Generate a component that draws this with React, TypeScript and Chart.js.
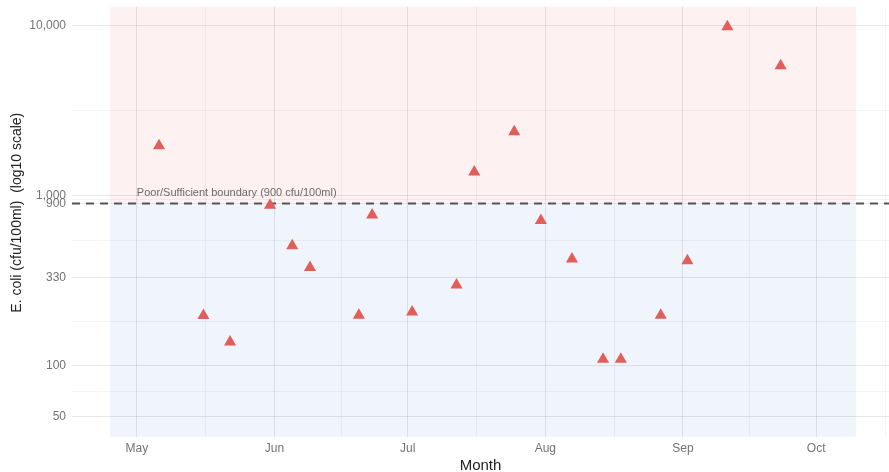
import { useEffect, useRef } from 'react';
import { Chart, registerables } from 'chart.js';

Chart.register(...registerables);

// Days counted from 1 May
const monthLabels = ['May', 'Jun', 'Jul', 'Aug', 'Sep', 'Oct'];
const monthStarts = [0, 31, 61, 92, 123, 153];
const monthMids = [15.5, 46, 76.5, 107.5, 138, 168.5];

const sampleDays = [5, 15, 21, 30, 35, 39, 50, 53, 62, 72, 76, 85, 91, 98, 105, 109, 118, 124, 133, 145];
const ecoliValues = [1970, 197, 138, 880, 507, 378, 198, 769, 207, 298, 1380, 2380, 714, 424, 109, 109, 198, 414, 9850, 5810];

const yTickValues = [50, 100, 330, 900, 1000, 10000];
const yTickLabels = ['50', '100', '330', '900', '1,000', '10,000'];
const yMinorTicks = [70.7, 181.7, 545, 948.7, 3162];

const boundaryValue = 900;
const boundaryLabel = 'Poor/Sufficient boundary (900 cfu/100ml)';
const yTitle = 'E. coli (cfu/100ml)  (log10 scale)';
const xTitle = 'Month';
const xRange = [-14.6, 169.4];
const yRange = [38.2, 12940];
const shadeRange = [-6, 162];

const FONT = '"Liberation Sans", Arial, Helvetica, sans-serif';

export default function App() {
  const ref = useRef<HTMLCanvasElement | null>(null);

  useEffect(() => {
    if (!ref.current) return;

    const shadePlugin = {
      id: 'shade',
      beforeDraw(chart: any) {
        const { ctx, chartArea, scales } = chart;
        const x = scales.x, y = scales.y;
        const x0 = x.getPixelForValue(shadeRange[0]);
        const x1 = x.getPixelForValue(shadeRange[1]);
        const yb = y.getPixelForValue(boundaryValue);
        ctx.save();
        ctx.fillStyle = '#fdf1f2';
        ctx.fillRect(x0, chartArea.top, x1 - x0, yb - chartArea.top);
        ctx.fillStyle = '#f0f4fd';
        ctx.fillRect(x0, yb, x1 - x0, chartArea.bottom - yb);
        ctx.restore();
      },
      beforeDatasetsDraw(chart: any) {
        const { ctx, scales, chartArea } = chart;
        const px = scales.x.getPixelForValue(0);
        const py = scales.y.getPixelForValue(boundaryValue);
        ctx.save();
        ctx.font = `11px ${FONT}`;
        ctx.fillStyle = '#6b6b6b';
        ctx.textAlign = 'left';
        ctx.textBaseline = 'alphabetic';
        ctx.fillText(boundaryLabel, px, py - 7);
        ctx.restore();

        // y axis title
        ctx.save();
        ctx.translate(17.5, (chartArea.top + chartArea.bottom) / 2 - 9);
        ctx.rotate(-Math.PI / 2);
        ctx.font = `14px ${FONT}`;
        ctx.fillStyle = '#222222';
        ctx.textAlign = 'center';
        ctx.textBaseline = 'middle';
        ctx.fillText(yTitle, 0, 0);
        ctx.restore();
      },
    };

    const majorY = new Set(yTickValues);
    const majorX = new Set(monthStarts);

    const chart = new Chart(ref.current, {
      type: 'scatter',
      data: {
        datasets: [
          {
            type: 'scatter',
            data: sampleDays.map((d, i) => ({ x: d, y: ecoliValues[i] })),
            pointStyle: 'triangle',
            pointRadius: 7,
            pointBackgroundColor: '#e05f5a',
            pointBorderColor: '#e05f5a',
            pointBorderWidth: 0,
            order: 0,
          },
          {
            type: 'line',
            data: [
              { x: xRange[0], y: boundaryValue },
              { x: xRange[1], y: boundaryValue },
            ],
            borderColor: '#555555',
            borderWidth: 2,
            borderDash: [8, 6],
            pointRadius: 0,
            order: 1,
          } as any,
        ],
      },
      options: {
        animation: false,
        responsive: false,
        devicePixelRatio: 1,
        layout: { autoPadding: false, padding: { top: 6.7, right: 0, left: 0, bottom: 0 } },
        plugins: {
          legend: { display: false },
          tooltip: { enabled: false },
        },
        scales: {
          x: {
            type: 'linear',
            min: xRange[0],
            max: xRange[1],
            afterBuildTicks: (scale: any) => {
              const vals = [...monthStarts, ...monthMids].sort((a, b) => a - b);
              scale.ticks = vals.map((v) => ({ value: v }));
            },
            afterFit: (scale: any) => {
              scale.height = 35.3;
              scale.paddingLeft = 0;
              scale.paddingRight = 0;
            },
            ticks: {
              autoSkip: false,
              maxRotation: 0,
              padding: 5,
              color: '#737373',
              font: { family: FONT, size: 12 },
              callback: (value: any) => {
                const idx = monthStarts.indexOf(Number(value));
                return idx >= 0 ? monthLabels[idx] : '';
              },
            },
            grid: {
              drawTicks: false,
              color: (ctx: any) =>
                majorX.has(ctx.tick?.value) ? 'rgba(0,0,0,0.09)' : 'rgba(0,0,0,0.045)',
              lineWidth: 1,
            },
            border: { display: false },
            title: {
              display: true,
              text: xTitle,
              color: '#222222',
              font: { family: FONT, size: 15 },
              padding: { top: 0, bottom: -2.5 },
            },
          },
          y: {
            type: 'logarithmic',
            min: yRange[0],
            max: yRange[1],
            afterBuildTicks: (scale: any) => {
              const vals = [...yTickValues, ...yMinorTicks].sort((a, b) => a - b);
              scale.ticks = vals.map((v) => ({ value: v }));
            },
            afterFit: (scale: any) => {
              scale.width = 72;
              scale.paddingTop = 0;
              scale.paddingBottom = 0;
            },
            ticks: {
              autoSkip: false,
              padding: 6,
              color: '#737373',
              font: { family: FONT, size: 12 },
              callback: (value: any) => {
                const idx = yTickValues.indexOf(Number(value));
                return idx >= 0 ? yTickLabels[idx] : '';
              },
            },
            grid: {
              drawTicks: false,
              color: (ctx: any) =>
                majorY.has(ctx.tick?.value) ? 'rgba(0,0,0,0.09)' : 'rgba(0,0,0,0.045)',
              lineWidth: 1,
            },
            border: { display: false },
            title: { display: false },
          },
        },
      },
      plugins: [shadePlugin],
    } as any);

    return () => chart.destroy();
  }, []);

  return (
    <div style={{ position: 'fixed', left: 0, top: 0, width: 889, height: 472, background: '#ffffff' }}>
      <canvas ref={ref} width={889} height={472} style={{ width: 889, height: 472, display: 'block' }} />
    </div>
  );
}
